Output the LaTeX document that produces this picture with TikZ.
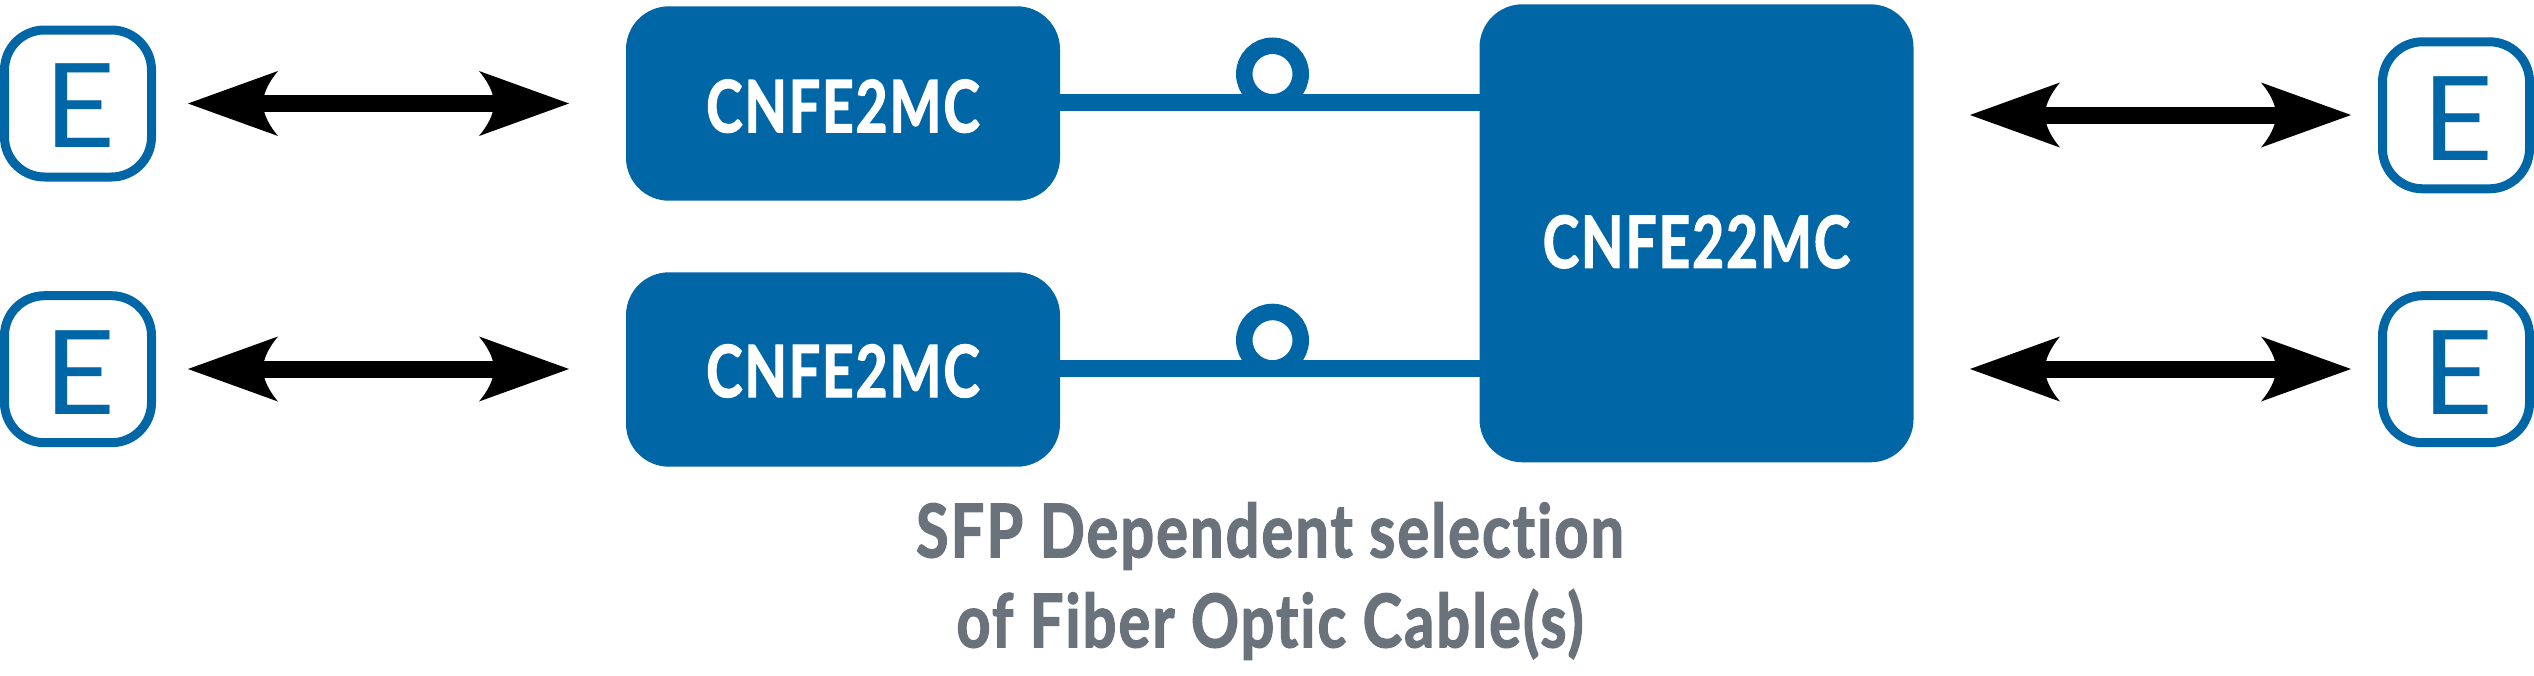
\documentclass[tikz,border=0pt]{standalone}
\usepackage{fontspec}
\usetikzlibrary{arrows.meta}
\setmainfont{Lato}
\newfontfamily\lblfont[FakeStretch=0.76,LetterSpace=3,Ligatures=NoCommon,BoldFeatures={FakeBold=1.8}]{Lato}
\newfontfamily\capfont[FakeStretch=0.80,LetterSpace=3,Ligatures=NoCommon,BoldFeatures={FakeBold=1.8}]{Lato}
\newfontfamily\efont[FakeStretch=1.05]{Lato}
\definecolor{cnblue}{HTML}{0066A6}
\definecolor{capgray}{HTML}{6A737B}
\newcommand\shifted[2]{\raisebox{#1}[53pt][0pt]{#2}}
\pgfdeclarearrow{
  name=DuplexHead,
  defaults={},
  setup code={%
    \pgfarrowssettipend{0pt}%
    \pgfarrowssetbackend{-90pt}%
    \pgfarrowssetlineend{-65pt}%
    \pgfarrowshullpoint{0pt}{0pt}%
    \pgfarrowshullpoint{-90pt}{32.5pt}%
    \pgfarrowshullpoint{-90pt}{-32.5pt}%
  },
  drawing code={%
    \pgfpathmoveto{\pgfqpoint{0pt}{0pt}}%
    \pgfpathlineto{\pgfqpoint{-90pt}{32.5pt}}%
    \pgfpathcurveto{\pgfqpoint{-82pt}{23pt}}{\pgfqpoint{-75pt}{11pt}}{\pgfqpoint{-75pt}{0pt}}%
    \pgfpathcurveto{\pgfqpoint{-75pt}{-11pt}}{\pgfqpoint{-82pt}{-23pt}}{\pgfqpoint{-90pt}{-32.5pt}}%
    \pgfpathclose
    \pgfusepathqfill
  }
}
\tikzset{
  unitbox/.style={fill=cnblue,rounded corners=43pt,text=white,inner sep=0pt,outer sep=0pt,minimum width=434pt,
    font=\lblfont\bfseries\fontsize{72}{90}\selectfont},
  endbox/.style={draw=cnblue,line width=9pt,rounded corners=40pt,minimum width=147pt,minimum height=147pt,inner sep=0pt},
  endlabel/.style={text=cnblue,inner sep=0pt,font=\efont\fontsize{117}{117}\selectfont},
  fiber/.style={draw=cnblue,line width=16.6pt,shorten <=-1pt,shorten >=-1pt},
  loopring/.style={circle,draw=cnblue,line width=16.5pt,minimum size=56.5pt,inner sep=0pt},
  duplex/.style={line width=17pt,{DuplexHead}-{DuplexHead}},
  caption/.style={text=capgray,align=center,inner sep=0pt,font=\capfont\bfseries\fontsize{74}{90}\selectfont}
}
\begin{document}
\begin{tikzpicture}[x=1pt,y=-1pt]
\useasboundingbox (0,0) rectangle (2534,675);
% loops first so that the fibres lie over them
\node[loopring] (r1) at (1272.5,74) {};
\node[loopring] (r2) at (1272.5,340.2) {};
% units
\node[unitbox,minimum height=194.4pt] (a) at (843,103.5) {\shifted{-2.2pt}{CNFE2MC}};
\node[unitbox,minimum height=194.4pt] (b) at (843,369.5) {\shifted{-1pt}{CNFE2MC}};
\node[unitbox,minimum height=458pt] (c) at (1696.5,233.3) {\shifted{-8pt}{CNFE22MC}};
% fibres
\coordinate (f1) at (1272,102.3);
\coordinate (f2) at (1272,368.3);
\draw[fiber] (a.east |- f1) -- (c.west |- f1);
\draw[fiber] (b.east |- f2) -- (c.west |- f2);
% end devices
\node[endbox] (e1) at (78,103.5) {};
\node[endbox] (e2) at (78,369.2) {};
\node[endbox] (e3) at (2456,115.3) {};
\node[endbox] (e4) at (2456,369.2) {};
\node[endlabel] (l1) at (80.3,106) {E};
\node[endlabel] (l2) at (80.3,372.3) {E};
\node[endlabel] (l3) at (2458.3,118.3) {E};
\node[endlabel] (l4) at (2458.3,372.3) {E};
% duplex arrows
\coordinate (p1) at (188,103.5);
\coordinate (q1) at (569,103.5);
\coordinate (p2) at (188,369);
\coordinate (q2) at (569,369);
\coordinate (p3) at (1970,115);
\coordinate (q3) at (2351,115);
\coordinate (p4) at (1970,369);
\coordinate (q4) at (2351,369);
\draw[duplex] (p1) -- (q1);
\draw[duplex] (p2) -- (q2);
\draw[duplex] (p3) -- (q3);
\draw[duplex] (p4) -- (q4);
\node[caption] (cap) at (1270,581) {SFP Dependent selection\\of Fiber Optic Cable(s)};
\end{tikzpicture}
\end{document}
